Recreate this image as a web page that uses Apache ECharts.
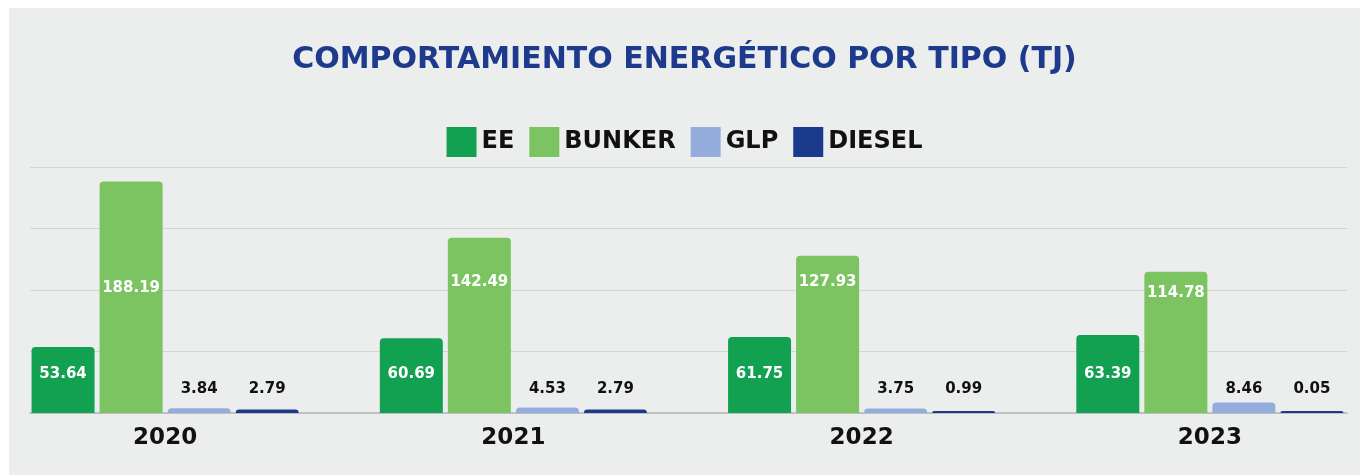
<!DOCTYPE html>
<html>
<head>
<meta charset="utf-8">
<script src="https://cdn.jsdelivr.net/npm/echarts@6/dist/echarts.min.js"></script>
<style>
  html, body { margin: 0; padding: 0; background: #ffffff; overflow: hidden; width: 1369px; height: 475px; }
  #panel { position: absolute; left: 9px; top: 8px; width: 1351px; height: 467px; background: #eceeee; }
  #chart { position: absolute; left: -30px; top: 0; width: 1429px; height: 475px; }
</style>
</head>
<body>
<div id="panel"></div>
<div id="chart"></div>
<script>
// Energy consumption by type, terajoules (TJ)
const years = ['2020', '2021', '2022', '2023'];
const ee = [53.64, 60.69, 61.75, 63.39];
const bunker = [188.19, 142.49, 127.93, 114.78];
const glp = [3.84, 4.53, 3.75, 8.46];
const diesel = [2.79, 2.79, 0.99, 0.05];

const FONT = 'DejaVu Sans';
const colors = { EE: '#12a051', BUNKER: '#7cc461', GLP: '#94addd', DIESEL: '#1c3a8b' };

const chart = echarts.init(document.getElementById('chart'), null, { renderer: 'canvas' });

const yAxisBase = { type: 'value', min: 0, max: 200, interval: 50 };

// BUNKER labels sit at slightly different heights inside each bar
const bunkerLabelDist = [99, 37, 19, 14];

function barSeries(name, values, label) {
  return {
    name: name,
    type: 'bar',
    xAxisIndex: 1,
    yAxisIndex: 1,
    barWidth: 63,
    barGap: '8%',
    barMinHeight: 2,
    itemStyle: { color: colors[name], borderRadius: [4, 4, 0, 0] },
    label: Object.assign({ show: true, fontFamily: FONT, fontWeight: 'bold', fontSize: 15 }, label),
    data: values.slice()
  };
}

const bunkerSeries = barSeries('BUNKER', bunker, { position: 'insideTop', color: '#ffffff' });
bunkerSeries.data = bunker.map((v, i) => ({ value: v, label: { distance: bunkerLabelDist[i] } }));

chart.setOption({
  animation: false,
  backgroundColor: 'transparent',
  title: {
    text: 'COMPORTAMIENTO ENERGÉTICO POR TIPO (TJ)',
    left: 'center',
    top: 40,
    textStyle: { fontFamily: FONT, fontWeight: 'bold', fontSize: 30, color: '#1d3a8c' }
  },
  legend: {
    top: 122,
    left: 'center',
    itemWidth: 30,
    itemHeight: 30,
    itemGap: 15,
    icon: 'rect',
    data: ['EE', 'BUNKER', 'GLP', 'DIESEL'],
    textStyle: { fontFamily: FONT, fontWeight: 'bold', fontSize: 24, color: '#111111' }
  },
  grid: [
    // grid carrying the horizontal rules and baseline
    { left: 60, right: 52, top: 167, bottom: 62 },
    // grid carrying the bars, wider so each year's group lands under its label
    { left: 21, right: 15, top: 167, bottom: 62 }
  ],
  xAxis: [
    {
      gridIndex: 0, type: 'category', data: years,
      axisLine: { show: true, lineStyle: { color: '#b4b8b8', width: 1.5 } },
      axisTick: { show: false }, axisLabel: { show: false }
    },
    {
      gridIndex: 1, type: 'category', data: years,
      axisLine: { show: false }, axisTick: { show: false },
      axisLabel: { show: true, margin: 14, fontFamily: FONT, fontWeight: 'bold', fontSize: 23, color: '#111111' }
    }
  ],
  yAxis: [
    Object.assign({ gridIndex: 0, axisLabel: { show: false }, axisLine: { show: false },
      splitLine: { show: true, lineStyle: { color: '#d2d5d5', width: 1 } } }, yAxisBase),
    Object.assign({ gridIndex: 1, show: false, splitLine: { show: false } }, yAxisBase)
  ],
  series: [
    barSeries('EE', ee, { position: 'insideBottom', distance: 31, color: '#ffffff' }),
    bunkerSeries,
    barSeries('GLP', glp, { position: 'insideBottom', distance: 16, color: '#111111' }),
    barSeries('DIESEL', diesel, { position: 'insideBottom', distance: 16, color: '#111111' })
  ]
});
</script>
</body>
</html>
